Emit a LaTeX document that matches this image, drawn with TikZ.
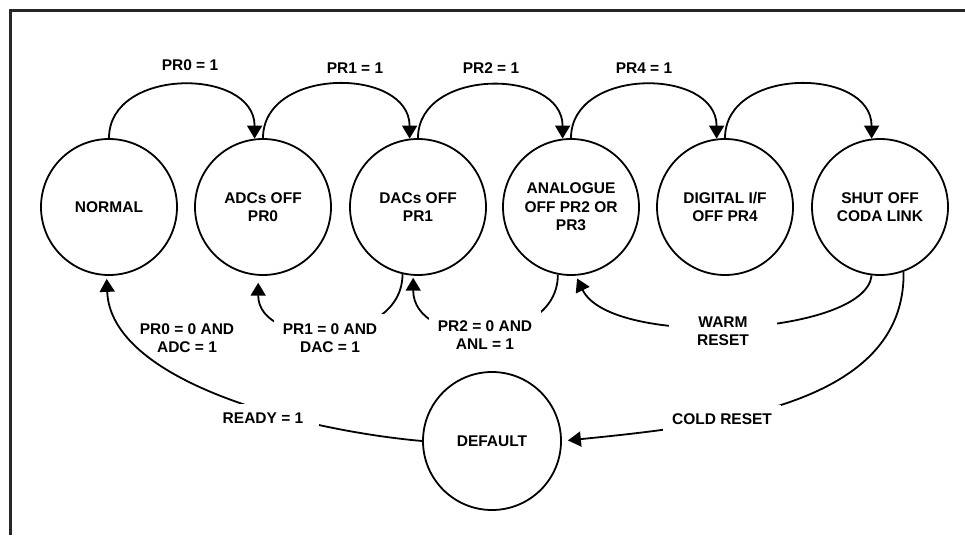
\documentclass[tikz,border=0pt]{standalone}
\usepackage{fontspec}
\setmainfont{Liberation Sans}
\usetikzlibrary{arrows.meta}
\tikzset{
	state/.style={circle,draw,minimum size=136pt,inner sep=0pt,align=center},
	lbl/.style={align=center,inner sep=1pt},
	cut/.style={lbl,fill=white,inner sep=9pt}
}
\begin{document}
\begin{tikzpicture}[x=1pt,y=1pt,line width=1.8pt,>={Triangle[length=13pt,width=15pt]},font=\bfseries\fontsize{15.5}{18.5}\selectfont]
		\useasboundingbox (0,0) rectangle (965,-535);
		\draw [line width=2.6pt,black!85] (10.5,-535)--(10.5,-10.5)--(965,-10.5);
		% states
		\node [state] (normal) at (109,-207) {NORMAL};
		\node [state] (adc) at (263,-207) {ADCs OFF\\PR0};
		\node [state] (dac) at (418,-207) {DACs OFF\\PR1};
		\node [state] (ana) at (571,-207) {ANALOGUE\\OFF PR2 OR\\PR3};
		\node [state] (dig) at (725,-207) {DIGITAL I/F\\OFF PR4};
		\node [state] (shut) at (880,-207) {SHUT OFF\\CODA LINK};
		\node [state,minimum size=138pt] (def) at (492,-441) {DEFAULT};
		% power down
		\foreach \a/\b in {normal/adc,adc/dac,dac/ana,ana/dig,dig/shut}{
			\draw [->] (\a.90) to[out=90,in=90,looseness=1.25] (\b.97);
		}
		% back up
		\draw [->,shorten >=7pt] (dac.257) to[out=-90,in=-90,looseness=1.3] (adc.266);
		\draw [->,shorten >=2pt] (ana.259) to[out=-90,in=-90,looseness=1.3] (dac.266);
		\draw [->,shorten >=3pt] (shut.263) .. controls +(-6,-61) and +(35,-73) .. (ana.274);
		\draw [->,shorten >=6pt] (shut.290) .. controls +(2,-133) and +(159,16) .. (def.east);
		\draw [->,shorten >=3pt] (def.west) .. controls +(-123,11) and +(4,-105) .. (normal.268);
		% labels
		\node [lbl] (p0) at (190,-65.5) {PR0 = 1};
		\node [lbl] (p1) at (355,-68.5) {PR1 = 1};
		\node [lbl] (p2) at (491,-68.5) {PR2 = 1};
		\node [lbl] (p4) at (644,-68) {PR4 = 1};
		\node [lbl] (q0) at (187,-338) {PR0 = 0 AND\\ADC = 1};
		\node [cut] (q1) at (330,-338) {PR1 = 0 AND\\DAC = 1};
		\node [cut] (q2) at (485,-335) {PR2 = 0 AND\\ANL = 1};
		\node [cut,inner xsep=28pt] (warm) at (723,-331) {WARM\\RESET};
		\node [cut] (cold) at (722,-419) {COLD RESET};
		\node [cut,inner xsep=16pt] (ready) at (263,-418) {READY = 1};
	\end{tikzpicture}
\end{document}
